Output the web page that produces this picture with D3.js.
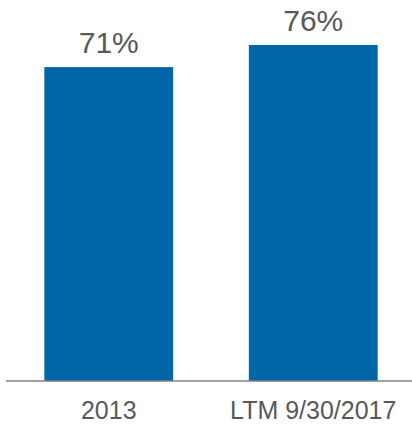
<!DOCTYPE html>
<html>
<head>
<meta charset="utf-8">
<script src="https://cdn.jsdelivr.net/npm/d3@7/dist/d3.min.js"></script>
<style>
  html, body { margin: 0; padding: 0; background: #fff; }
  svg { display: block; }
</style>
</head>
<body>
<svg id="chart" width="412" height="429"></svg>
<script>
// Category labels and their percentage values
const categories = ["2013", "LTM 9/30/2017"];
const values = [71, 76];

const svg = d3.select("#chart");
const baseY = 381;

const x = d3.scaleBand()
  .domain(categories)
  .range([6.5, 415.5])
  .paddingInner(0.37)
  .paddingOuter(0.185);

const y = d3.scaleLinear()
  .domain([0, 76])
  .range([baseY, 45]);

// Bars
svg.selectAll("rect.bar")
  .data(categories)
  .join("rect")
  .attr("class", "bar")
  .attr("x", d => x(d))
  .attr("width", x.bandwidth())
  .attr("y", (d, i) => y(values[i]))
  .attr("height", (d, i) => y(0) - y(values[i]))
  .attr("fill", "#0066a8");

// Value labels above bars
svg.selectAll("text.val")
  .data(categories)
  .join("text")
  .attr("class", "val")
  .attr("x", d => x(d) + x.bandwidth() / 2)
  .attr("y", (d, i) => y(values[i]) - 14)
  .attr("text-anchor", "middle")
  .attr("font-family", "Liberation Sans, Arial, sans-serif")
  .attr("font-size", 30)
  .attr("fill", "#595959")
  .text((d, i) => values[i] + "%");

// Category axis along the baseline
const axis = svg.append("g")
  .attr("transform", `translate(0,${baseY})`)
  .call(d3.axisBottom(x).tickSize(0).tickPadding(20));

axis.select(".domain")
  .attr("stroke", "#808080")
  .attr("stroke-width", 1.5)
  .attr("d", "M6,0H412");

axis.selectAll(".tick text")
  .attr("font-family", "Liberation Sans, Arial, sans-serif")
  .attr("font-size", 25)
  .attr("fill", "#595959");
</script>
</body>
</html>
